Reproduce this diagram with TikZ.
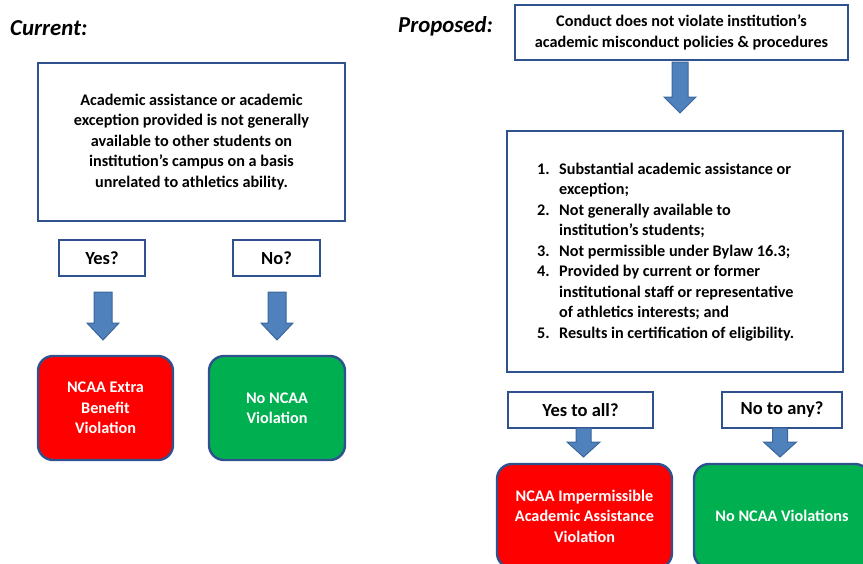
\documentclass[tikz,border=0pt]{standalone}
\usepackage{fontspec}
\setmainfont{Carlito}
\definecolor{bord}{HTML}{2F528F}
\definecolor{arr}{HTML}{4F81BD}
\definecolor{arrb}{HTML}{3C679A}
\definecolor{vred}{HTML}{FF0000}
\definecolor{vgreen}{HTML}{00B050}
\tikzset{
  qbox/.style={draw=bord, line width=2.4pt, fill=white, inner sep=0pt,
    font=\bfseries\fontsize{16.2}{20.5}\selectfont, align=center},
  ansbox/.style={qbox, font=\bfseries\fontsize{18.5}{22}\selectfont},
  rbox/.style={qbox, rounded corners=15pt, text=white},
  heading/.style={font=\bfseries\itshape\fontsize{22.8}{26}\selectfont, anchor=west, inner sep=0pt},
  barrowstyle/.style={fill=arr, draw=arrb, line width=1pt},
  pics/blockarrow/.style n args={4}{code={
    \draw[barrowstyle] (-#1,0) -- (#1,0) -- (#1,#3) -- (#2,#3) -- (0,#4)
      -- (-#2,#3) -- (-#1,#3) -- cycle;}}
}
\begin{document}
\begin{tikzpicture}[x=1pt,y=-1pt]
\useasboundingbox (0,0) rectangle (863,563);
% headings
\node[heading] (cur) at (10,28) {Current:};
\node[heading] (prop) at (398,26) {Proposed:};
% left side
\node[qbox, minimum width=307pt, minimum height=158pt] (q1) at (191.5,142)
  {Academic assistance or academic\\exception provided is not generally\\available to other students on\\institution’s campus on a basis\\unrelated to athletics ability.};
\node[ansbox, minimum width=86pt, minimum height=36pt] (yes1) at (102,258) {Yes?};
\node[ansbox, minimum width=87pt, minimum height=36pt] (no1) at (276.5,258) {No?};
\coordinate (a1) at (103,292);
\coordinate (a2) at (277,292);
\pic at (a1) {blockarrow={9}{16}{31}{48}};
\pic at (a2) {blockarrow={9}{16}{31}{48}};
\node[rbox, fill=vred, minimum width=135pt, minimum height=104pt] (r1) at (105.5,408)
  {NCAA Extra\\Benefit\\Violation};
\node[rbox, fill=vgreen, minimum width=136pt, minimum height=104pt] (g1) at (277,408)
  {No NCAA\\Violation};
% right side
\node[qbox, minimum width=333pt, minimum height=55pt] (top) at (681.5,32.5)
  {Conduct does not violate institution’s\\academic misconduct policies \& procedures};
\coordinate (a3) at (680,62);
\pic at (a3) {blockarrow={8}{16}{35}{51}};
\node[qbox, minimum width=336pt, minimum height=241pt] (crit) at (675,251.5) {};
\node[font=\bfseries\fontsize{16.2}{20.5}\selectfont, anchor=west, inner sep=0pt, align=left] (list) at (537,252)
  {\begin{tabular}{@{}p{17pt}@{\hspace{5pt}}l@{}}
  1. & Substantial academic assistance or\\
     & exception;\\
  2. & Not generally available to\\
     & institution’s students;\\
  3. & Not permissible under Bylaw 16.3;\\
  4. & Provided by current or former\\
     & institutional staff or representative\\
     & of athletics interests; and\\
  5. & Results in certification of eligibility.
  \end{tabular}};
\node[ansbox, minimum width=145pt, minimum height=36pt] (yes2) at (580.5,410) {Yes to all?};
\node[ansbox, minimum width=120pt, minimum height=36pt] (no2) at (782,410) {No to any?};
\coordinate (a4) at (583.5,428);
\coordinate (a5) at (780,428);
\pic at (a4) {blockarrow={7.5}{16.5}{14}{29}};
\pic at (a5) {blockarrow={7.5}{16.5}{14}{29}};
\node[rbox, fill=vred, minimum width=175pt, minimum height=104pt] (r2) at (584.5,516)
  {NCAA Impermissible\\Academic Assistance\\Violation};
\node[rbox, fill=vgreen, minimum width=176pt, minimum height=104pt] (g2) at (782,516)
  {No NCAA Violations};
\end{tikzpicture}
\end{document}
